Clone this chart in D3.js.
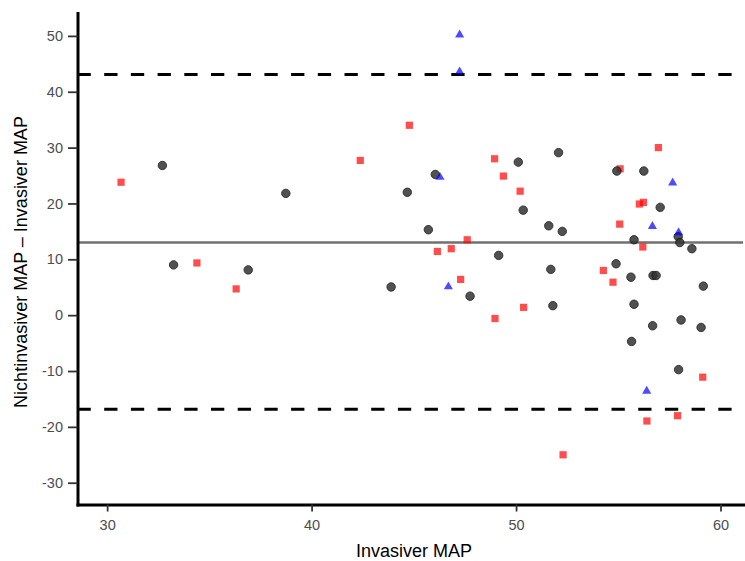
<!DOCTYPE html>
<html>
<head>
<meta charset="utf-8">
<script src="https://cdn.jsdelivr.net/npm/d3@7"></script>
<style>
body { margin: 0; background: #fff; }
svg { display: block; font-family: "Liberation Sans", Arial, sans-serif; }
</style>
</head>
<body>
<script>
var width = 745;
var height = 561;

// Bland-Altman values: x = Invasiver MAP, y = Nichtinvasiver MAP - Invasiver MAP
var circleX = [32.7, 33.25, 36.9, 38.74, 43.89, 44.68, 45.71, 46.05, 47.75, 49.15, 50.11, 50.35, 51.6, 51.7, 51.8, 52.08, 52.26, 54.89, 54.93, 55.62, 55.65, 55.77, 55.77, 56.25, 56.68, 56.7, 56.85, 57.05, 57.93, 57.95, 58.01, 58.07, 58.6, 59.05, 59.16];
var circleY = [26.8, 9.0, 8.1, 21.8, 5.05, 22.0, 15.3, 25.2, 3.4, 10.7, 27.4, 18.8, 16.0, 8.2, 1.7, 29.1, 15.0, 9.2, 25.8, 6.8, -4.7, 13.5, 1.95, 25.8, -1.9, 7.1, 7.1, 19.3, 14.06, -9.75, 13.0, -0.86, 11.9, -2.2, 5.2];

var squareX = [30.68, 34.39, 36.31, 42.38, 44.78, 46.15, 46.83, 47.29, 47.61, 48.95, 48.97, 49.38, 50.2, 50.37, 52.3, 54.27, 54.74, 55.07, 55.09, 56.03, 56.2, 56.23, 56.4, 56.96, 57.9, 59.13];
var squareY = [23.8, 9.35, 4.7, 27.7, 34.0, 11.4, 11.9, 6.4, 13.5, 28.0, -0.6, 24.9, 22.2, 1.4, -25.0, 8.0, 5.9, 16.3, 26.2, 19.9, 12.2, 20.2, -18.95, 30.0, -18.0, -11.1];

var triangleX = [47.24, 47.24, 46.28, 46.69, 56.39, 56.67, 57.66, 57.95];
var triangleY = [50.2, 43.6, 24.7, 5.1, -13.6, 15.9, 23.7, 14.8];

var meanDiff = 13.0;
var upperLoA = 43.07;
var lowerLoA = -16.85;

var xTicks = [30, 40, 50, 60];
var yTicks = [-30, -20, -10, 0, 10, 20, 30, 40, 50];

var svg = d3.select("body").append("svg")
    .attr("width", width)
    .attr("height", height);

var x = d3.scaleLinear()
    .domain([28.55, 61.1])
    .range([77.5, 743]);

var y = d3.scaleLinear()
    .domain([-33.9, 54.1])
    .range([504.5, 13]);

// reference lines
svg.append("line")
    .attr("x1", x.range()[0]).attr("x2", x.range()[1])
    .attr("y1", y(meanDiff)).attr("y2", y(meanDiff))
    .attr("stroke", "#707070")
    .attr("stroke-width", 2.5);

[upperLoA, lowerLoA].forEach(function(v) {
    svg.append("line")
        .attr("x1", x.range()[0]).attr("x2", x.range()[1])
        .attr("y1", y(v)).attr("y2", y(v))
        .attr("stroke", "#000")
        .attr("stroke-width", 3)
        .attr("stroke-dasharray", "13.3,13.4");
});

// points
var pts = svg.append("g");

pts.selectAll(".sq")
    .data(d3.zip(squareX, squareY))
    .enter().append("rect")
    .attr("class", "sq")
    .attr("x", function(d) { return x(d[0]) - 3.6; })
    .attr("y", function(d) { return y(d[1]) - 3.6; })
    .attr("width", 7.2)
    .attr("height", 7.2)
    .attr("fill", "#ff0000")
    .attr("fill-opacity", 0.7);

pts.selectAll(".ci")
    .data(d3.zip(circleX, circleY))
    .enter().append("circle")
    .attr("class", "ci")
    .attr("cx", function(d) { return x(d[0]); })
    .attr("cy", function(d) { return y(d[1]); })
    .attr("r", 4.2)
    .attr("fill", "#333")
    .attr("stroke", "#111")
    .attr("stroke-width", 1)
    .attr("opacity", 0.85);

var tri = d3.symbol().type(d3.symbolTriangle).size(36);
pts.selectAll(".tr")
    .data(d3.zip(triangleX, triangleY))
    .enter().append("path")
    .attr("class", "tr")
    .attr("d", tri)
    .attr("transform", function(d) { return "translate(" + x(d[0]) + "," + y(d[1]) + ")"; })
    .attr("fill", "#0000ff")
    .attr("fill-opacity", 0.7);

// axes (plain hyphen for negatives, like the original)
var fmt = function(d) { return String(d); };

var gx = svg.append("g")
    .attr("transform", "translate(0," + y.range()[0] + ")")
    .call(d3.axisBottom(x).tickValues(xTicks).tickFormat(fmt).tickSize(7).tickSizeOuter(0).tickPadding(8));

var gy = svg.append("g")
    .attr("transform", "translate(" + x.range()[0] + ",0)")
    .call(d3.axisLeft(y).tickValues(yTicks).tickFormat(fmt).tickSize(9.5).tickSizeOuter(0).tickPadding(5));

[gx, gy].forEach(function(g) {
    g.select(".domain")
        .attr("stroke", "#000")
        .attr("stroke-width", 3)
        .attr("stroke-linecap", "square");
    g.selectAll(".tick line")
        .attr("stroke", "#333")
        .attr("stroke-width", 1.8);
    g.selectAll(".tick text")
        .attr("fill", "#4d4d4d")
        .style("font-size", "14.5px")
        .style("font-family", "'Liberation Sans', Arial, sans-serif");
});

// titles
svg.append("text")
    .attr("x", 414)
    .attr("y", 557)
    .attr("text-anchor", "middle")
    .style("font-size", "18px")
    .attr("fill", "#000")
    .text("Invasiver MAP");

svg.append("text")
    .attr("transform", "translate(26.7,262) rotate(-90)")
    .attr("text-anchor", "middle")
    .style("font-size", "18px")
    .attr("fill", "#000")
    .text("Nichtinvasiver MAP \u2013 Invasiver MAP");
</script>
</body>
</html>
